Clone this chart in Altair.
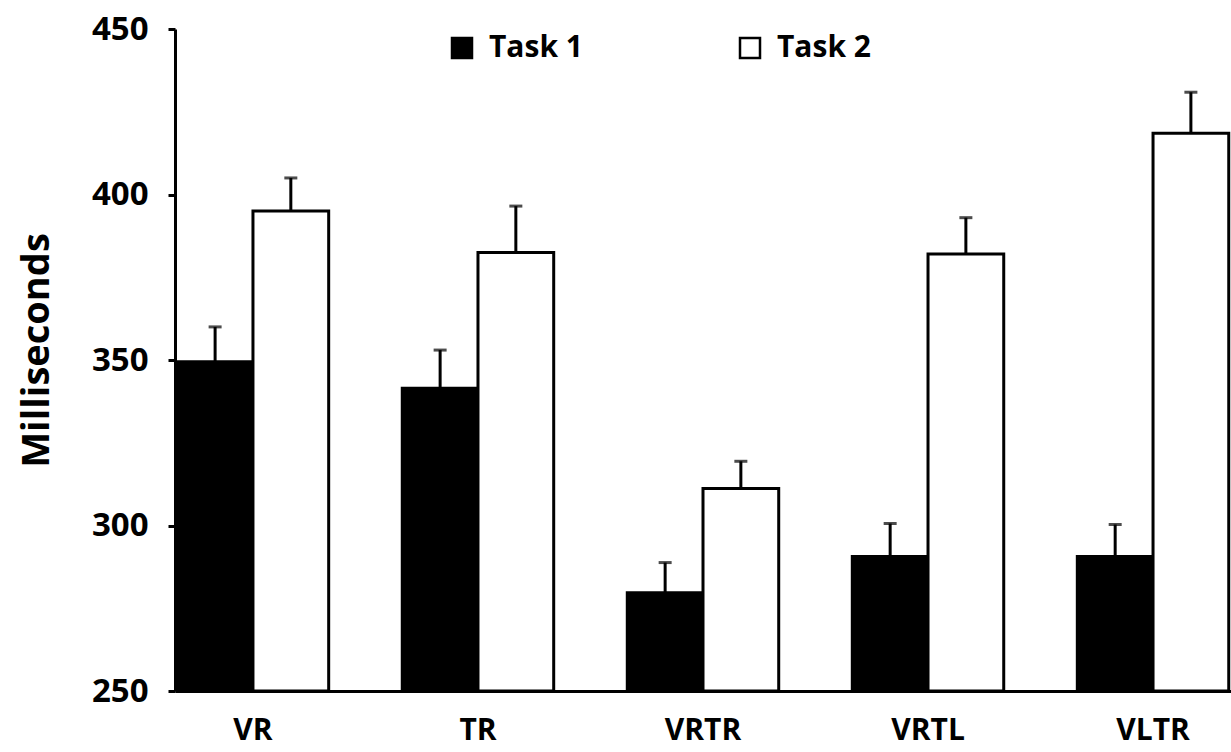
import altair as alt
import pandas as pd

# Mean response times (ms) per condition, with the top of each error bar
conditions = ["VR", "TR", "VRTR", "VRTL", "VLTR"]
tasks = ["Task 1", "Task 2"]
task1_ms = [349.5, 341.5, 279.7, 290.6, 290.6]
task1_err_top = [360.0, 353.0, 288.8, 300.6, 300.3]
task2_ms = [395.0, 382.5, 311.2, 382.0, 418.5]
task2_err_top = [405.0, 396.5, 319.4, 393.0, 430.9]
y_ticks = [250, 300, 350, 400, 450]

rows = []
for i, cond in enumerate(conditions):
    rows.append({"condition": cond, "task": tasks[0], "ms": task1_ms[i], "upper": task1_err_top[i]})
    rows.append({"condition": cond, "task": tasks[1], "ms": task2_ms[i], "upper": task2_err_top[i]})
df = pd.DataFrame(rows)

FONT = "Open Sans"

x_enc = alt.X(
    "condition:N",
    sort=conditions,
    scale=alt.Scale(paddingInner=0.327, paddingOuter=0.01),
    axis=alt.Axis(
        title=None,
        labelAngle=0,
        ticks=False,
        domainColor="black",
        domainWidth=3,
        labelFont=FONT,
        labelFontWeight="bold",
        labelFontSize=30,
        labelColor="black",
        labelPadding=24,
    ),
)
xoff_enc = alt.XOffset("task:N", sort=tasks, scale=alt.Scale(paddingInner=0, paddingOuter=0))

y_scale = alt.Scale(domain=[250, 450], nice=False, zero=False)

bars = alt.Chart(df).mark_bar(stroke="black", strokeWidth=3).encode(
    x=x_enc,
    xOffset=xoff_enc,
    y=alt.Y(
        "ms:Q",
        scale=y_scale,
        axis=alt.Axis(
            title="Milliseconds",
            values=y_ticks,
            grid=False,
            domainColor="black",
            domainWidth=3,
            tickColor="black",
            tickWidth=3,
            tickSize=7,
            labelFont=FONT,
            labelFontWeight="bold",
            labelFontSize=33,
            labelColor="black",
            labelPadding=20,
            titleFont=FONT,
            titleFontWeight="bold",
            titleFontSize=38,
            titleColor="black",
            titlePadding=35,
            titleY=321,
        ),
    ),
    y2=alt.datum(250),
    color=alt.Color(
        "task:N",
        sort=tasks,
        scale=alt.Scale(domain=tasks, range=["black", "white"]),
        legend=alt.Legend(
            title=None,
            orient="none",
            legendX=272,
            legendY=4,
            direction="horizontal",
            symbolType="square",
            symbolSize=400,
            symbolStrokeColor="black",
            symbolStrokeWidth=2.5,
            labelFont=FONT,
            labelFontWeight="bold",
            labelFontSize=30,
            labelColor="black",
            labelOffset=12,
            columnPadding=152,
        ),
    ),
)

err_rules = alt.Chart(df).mark_rule(color="black", strokeWidth=3).encode(
    x=x_enc,
    xOffset=xoff_enc,
    y=alt.Y("ms:Q", scale=y_scale),
    y2="upper:Q",
)

err_caps = alt.Chart(df).mark_tick(color="black", thickness=3, size=13, orient="horizontal").encode(
    x=x_enc,
    xOffset=xoff_enc,
    y=alt.Y("upper:Q", scale=y_scale),
)

chart = (
    alt.layer(bars, err_rules, err_caps)
    .properties(
        width=1056,
        height=662,
        autosize=alt.AutoSizeParams(type="none"),
        padding={"left": 175, "top": 29, "right": 0, "bottom": 61},
        background="white",
    )
    .configure_view(stroke=None)
)

chart.save("out.html", embed_options={"renderer": "svg", "actions": False})
